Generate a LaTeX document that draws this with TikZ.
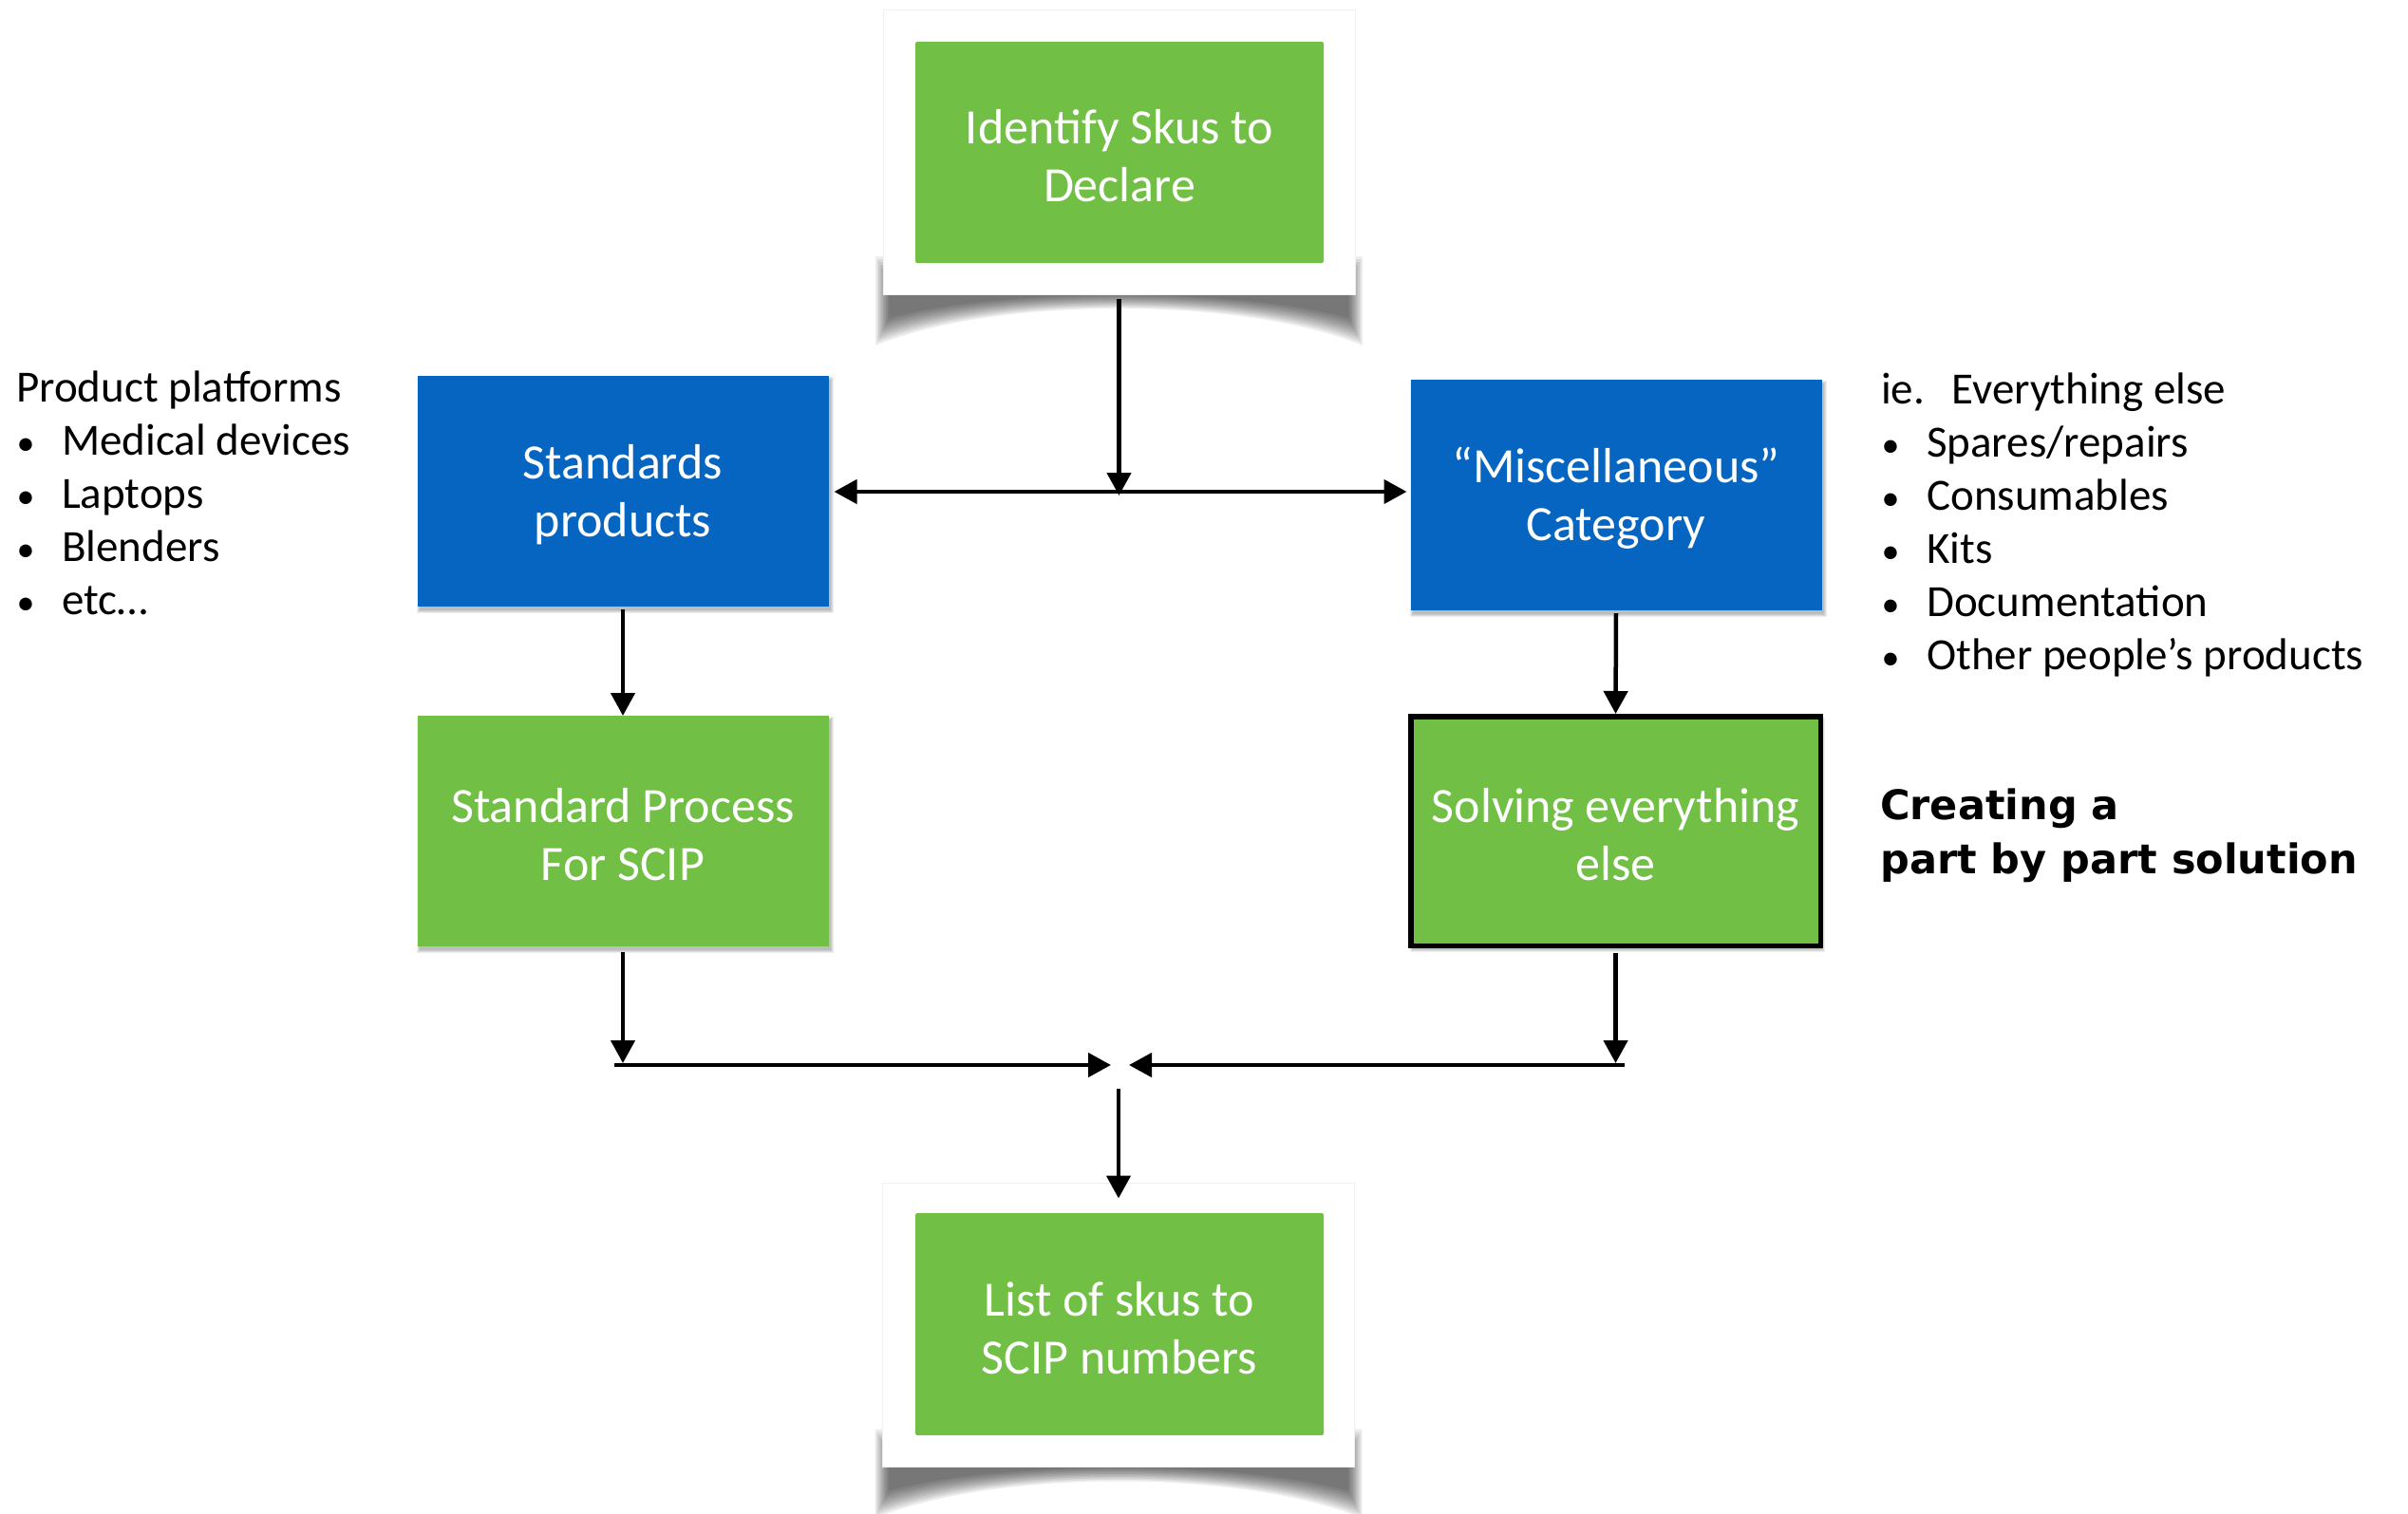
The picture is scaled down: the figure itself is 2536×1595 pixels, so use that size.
\documentclass[tikz,border=0pt]{standalone}
\usepackage{fontspec}
\setmainfont{Carlito}
\newfontfamily\heavyfont{DejaVu Sans}
\usetikzlibrary{arrows.meta,backgrounds,calc}
\definecolor{boxgreen}{RGB}{113,191,68}
\definecolor{boxblue}{RGB}{5,101,192}
\newcommand\boxfont{\fontsize{52}{61}\selectfont}
\newcommand\listfont{\fontsize{47}{56}\selectfont}
\newcommand\bulfont{\fontsize{38}{56}\selectfont}
\newcommand\notefont{\heavyfont\bfseries\fontsize{43}{57}\selectfont}
\newcommand\topstrut{\rule{0pt}{44pt}}
\newcommand\curlshadow[1]{%
 \foreach \k in {0,...,9}{%
  \fill[black, opacity=0.07]
   ($(#1.south west)+(-8+1.6*\k,-40+3*\k)$) --
   ($(#1.south west)+(-8+1.6*\k,54-3.2*\k)$) .. controls ($(#1.south)+(-130,2-\k)$) and ($(#1.south)+(130,2-\k)$) ..
   ($(#1.south east)+(8-1.6*\k,54-3.2*\k)$) --
   ($(#1.south east)+(8-1.6*\k,-40+3*\k)$) -- cycle;
 }%
}
\newcommand\softshadow[1]{%
 \foreach \k in {0,...,3}{%
   \fill[black,opacity=0.07] ($(#1.north west)+(2-\k,4-\k)$) rectangle ($(#1.south east)+(2+\k,4+\k)$);
 }%
}
\tikzset{
 arr/.style={line width=4.5pt, -{Triangle[length=24pt,width=25pt]}},
 box/.style={minimum width=433pt, minimum height=243pt, inner sep=0pt, outer sep=0pt, align=center, text=white, font=\boxfont},
 gbox/.style={box, fill=boxgreen},
 bbox/.style={box, fill=boxblue},
 frame/.style={fill=white, draw=black!6, line width=1pt, minimum width=497pt, minimum height=299pt, inner sep=0pt, outer sep=0pt},
 listtxt/.style={anchor=base west, inner sep=0pt, font=\listfont},
 bul/.style={anchor=base, inner sep=0pt, font=\bulfont},
 note/.style={anchor=base west, inner sep=0pt, font=\notefont},
}
\begin{document}
\begin{tikzpicture}[x=1pt,y=-1pt]
\useasboundingbox (0,0) rectangle (2536,1595);
% boxes
\node[frame] (tf) at (1178.5,160.5) {};
\node[gbox, minimum width=430pt, minimum height=233pt, rounded corners=2pt] (identify) at (1179,160.5) {\topstrut Identify Skus to\\Declare};
\node[bbox] (std) at (656,517.5) {\topstrut Standards\\products};
\node[bbox] (misc) at (1702,521.5) {\topstrut “Miscellaneous”\\Category};
\node[gbox] (proc) at (656,875.5) {\topstrut Standard Process\\For SCIP};
\node[gbox, draw=black, line width=5.5pt, minimum width=431.5pt, minimum height=241.5pt] (solve) at (1701.5,875.5) {\topstrut Solving everything\\else};
\node[frame] (bf) at (1178,1396) {};
\node[gbox, minimum width=430pt, minimum height=234pt, rounded corners=2pt] (list) at (1179,1395) {\topstrut List of skus to\\SCIP numbers};
% connectors
\coordinate (j1) at (1178.5,518);
\draw[arr, shorten <=5pt, shorten >=-4pt] (tf.south) -- (j1);
\draw[arr, shorten >=6pt] (j1) -- (j1 -| std.east);
\draw[arr, shorten >=4pt] (j1) -- (j1 -| misc.west);
\draw[arr, shorten <=3pt] (std.south) -- (proc.north);
\draw[arr, shorten <=3pt, shorten >=2.75pt] (misc.south) -- (solve.north);
\coordinate (hl) at (647,1122);
\coordinate (ml) at (1170,1122);
\coordinate (mr) at (1189,1122);
\coordinate (hr) at (1711,1122);
\coordinate (ms) at (1178,1147);
\draw[arr, shorten <=6pt, shorten >=2pt] (proc.south) -- (proc.south |- hl);
\draw[arr] (hl) -- (ml);
\draw[arr, shorten <=8pt, shorten >=2pt] (solve.south) -- (solve.south |- hr);
\draw[arr] (hr) -- (mr);
\draw[arr, shorten >=-16pt] (ms) -- (bf.north);
% left list
\node[listtxt] (pp) at (17,423) {Product platforms};
\node[bul] (lb1) at (27,479) {•}; \node[listtxt] (l1) at (65,479) {Medical devices};
\node[bul] (lb2) at (27,535) {•}; \node[listtxt] (l2) at (65,535) {Laptops};
\node[bul] (lb3) at (27,591) {•}; \node[listtxt] (l3) at (65,591) {Blenders};
\node[bul] (lb4) at (27,647) {•}; \node[listtxt] (l4) at (65,647) {etc…};
% right list
\node[listtxt] (ie) at (1981,425) {ie.\hspace{0.6em}Everything else};
\node[bul] (rb1) at (1991,481) {•}; \node[listtxt] (r1) at (2029,481) {Spares/repairs};
\node[bul] (rb2) at (1991,537) {•}; \node[listtxt] (r2) at (2029,537) {Consumables};
\node[bul] (rb3) at (1991,593) {•}; \node[listtxt] (r3) at (2029,593) {Kits};
\node[bul] (rb4) at (1991,649) {•}; \node[listtxt] (r4) at (2029,649) {Documentation};
\node[bul] (rb5) at (1991,705) {•}; \node[listtxt] (r5) at (2029,705) {Other people’s products};
% note
\node[note] (cr1) at (1980,863) {Creating a};
\node[note] (cr2) at (1980,920) {part by part solution};
% shadows
\begin{scope}[on background layer]
\fill[white] (0,0) rectangle (2536,1595);
\curlshadow{tf}
\curlshadow{bf}
\softshadow{std}
\softshadow{misc}
\softshadow{proc}
\softshadow{solve}
\end{scope}
\end{tikzpicture}
\end{document}
